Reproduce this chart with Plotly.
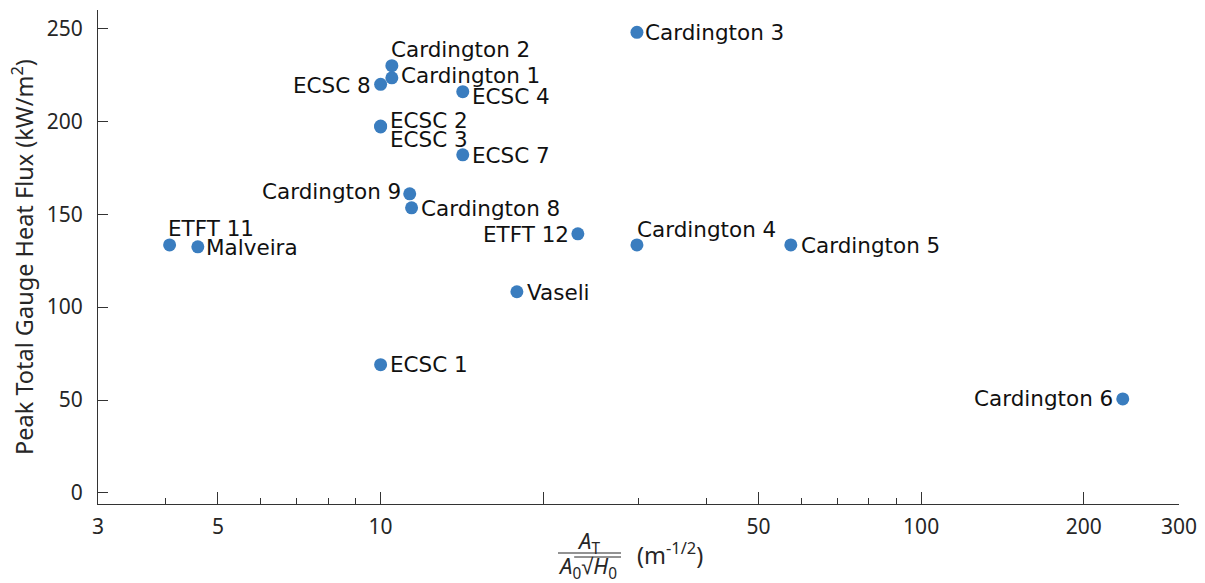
import numpy as np
import plotly.graph_objects as go

names = ["Cardington 3", "Cardington 2", "Cardington 1", "ECSC 8", "ECSC 4",
         "ECSC 2", "ECSC 3", "ECSC 7", "Cardington 9", "Cardington 8",
         "ETFT 11", "Malveira", "ETFT 12", "Cardington 4", "Cardington 5",
         "Vaseli", "ECSC 1", "Cardington 6"]
opening_factor = [29.8, 10.49, 10.49, 10.0, 14.19,
                  10.0, 10.0, 14.19, 11.32, 11.41,
                  4.07, 4.59, 23.17, 29.8, 57.4,
                  17.87, 10.0, 236.1]
peak_flux = [248, 230, 223.5, 220, 216,
             197.5, 197, 182, 161, 153.5,
             133.5, 132.5, 139.5, 133.5, 133.5,
             108.3, 69, 50.6]

x_tickvals = [3, 5, 10, 20, 50, 100, 200, 300]
x_ticktext = ["3", "5", "10", "", "50", "100", "200", "300"]
x_minor = [4, 6, 7, 8, 9, 30, 40, 60, 70, 80, 90]
y_tickvals = [0, 50, 100, 150, 200, 250]

# label placement: (side, xshift px, yshift px)
placement = {
    "Cardington 3": ("l", 6, 0), "Cardington 2": ("l", -3, 16),
    "Cardington 1": ("l", 7, 2), "ECSC 8": ("r", -8, -1),
    "ECSC 4": ("l", 7, -5), "ECSC 2": ("l", 7, 6), "ECSC 3": ("l", 7, -12),
    "ECSC 7": ("l", 7, -1), "Cardington 9": ("r", -7, 2),
    "Cardington 8": ("l", 7, -1), "ETFT 11": ("l", -4, 16),
    "Malveira": ("l", 6, -1), "ETFT 12": ("r", -7, -1),
    "Cardington 4": ("l", -2, 15), "Cardington 5": ("l", 8, -1),
    "Vaseli": ("l", 8, -1), "ECSC 1": ("l", 7, 0), "Cardington 6": ("r", -8, 0),
}

axis_color = "#333333"
axis_font = dict(family="Noto Sans, sans-serif", size=21, color="#262626")
ytitle_font = dict(family="Noto Sans, sans-serif", size=23.5, color="#262626")
label_font = dict(family="DejaVu Sans", size=21.5, color="#111111")

fig = go.Figure()
fig.add_trace(go.Scatter(
    x=opening_factor, y=peak_flux, mode="markers",
    marker=dict(size=13, color="#3a7dbf"),
    text=names, hoverinfo="text", showlegend=False,
))

anns = []
for n, xv, yv in zip(names, opening_factor, peak_flux):
    side, dx, dy = placement[n]
    anns.append(dict(
        x=np.log10(xv), y=yv, xref="x", yref="y", text=n, showarrow=False,
        xanchor="left" if side == "l" else "right", yanchor="middle",
        xshift=dx, yshift=dy, font=label_font,
    ))

# x-axis title built as a fraction (paper coordinates relative to plot area)
frac_font = dict(family="Noto Sans, sans-serif", size=22, color="#262626")
unit_font = dict(family="Noto Sans, sans-serif", size=23.5, color="#262626")
anns.append(dict(x=0.4535, y=-0.077, xref="paper", yref="paper", text="<i>A</i><sub>T</sub>",
                 showarrow=False, font=frac_font, xanchor="center", yanchor="middle"))
anns.append(dict(x=0.4525, y=-0.128, xref="paper", yref="paper",
                 text="<i>A</i><sub>0</sub>√<i>H</i><sub>0</sub>",
                 showarrow=False, font=frac_font, xanchor="center", yanchor="middle"))
anns.append(dict(x=0.4965, y=-0.101, xref="paper", yref="paper",
                 text="(m<sup>-1/2</sup>)",
                 showarrow=False, font=unit_font, xanchor="left", yanchor="middle"))

shapes = [
    dict(type="line", xref="paper", yref="paper", x0=0.4255, x1=0.4838, y0=-0.0992, y1=-0.0992,
         line=dict(color="#262626", width=1.2)),
    dict(type="line", xref="paper", yref="paper", x0=0.4405, x1=0.4838, y0=-0.1073, y1=-0.1073,
         line=dict(color="#262626", width=1)),
]

fig.update_layout(
    width=1205, height=583,
    margin=dict(l=98, r=26, t=10, b=79, autoexpand=False),
    paper_bgcolor="white", plot_bgcolor="white",
    annotations=anns, shapes=shapes,
    xaxis=dict(
        type="log", range=[np.log10(3), np.log10(300)], automargin=False,
        tickmode="array", tickvals=x_tickvals, ticktext=x_ticktext,
        ticks="inside", ticklen=12, tickwidth=1, tickcolor=axis_color,
        minor=dict(tickmode="array", tickvals=x_minor, ticks="inside", ticklen=6,
                   tickwidth=1, tickcolor=axis_color, showgrid=False),
        showline=True, linecolor=axis_color, linewidth=1,
        showgrid=False, zeroline=False, tickfont=axis_font, ticklabelstandoff=4,
    ),
    yaxis=dict(
        range=[-6, 260], tickmode="array", tickvals=y_tickvals, automargin=False,
        ticks="inside", ticklen=10, tickwidth=1, tickcolor=axis_color,
        showline=True, linecolor=axis_color, linewidth=1,
        showgrid=False, zeroline=False, tickfont=axis_font, ticklabelstandoff=10,
        title=dict(text="Peak Total Gauge Heat Flux (kW/m<sup>2</sup>)", font=ytitle_font, standoff=6),
    ),
)
fig.write_html("out.html")
